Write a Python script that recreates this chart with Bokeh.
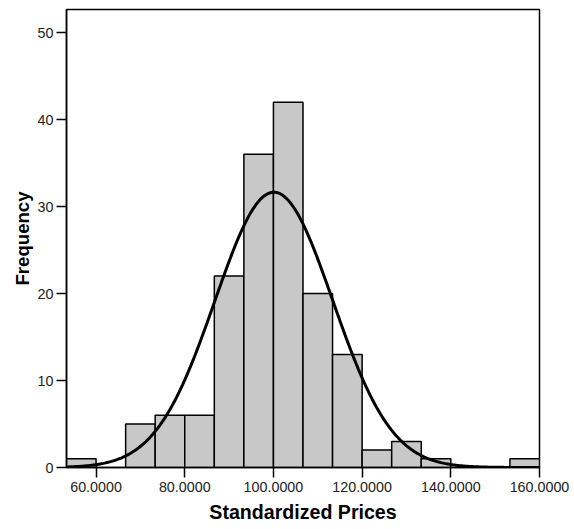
import numpy as np
from bokeh.plotting import figure
from bokeh.models import FixedTicker, PrintfTickFormatter, Range1d
from bokeh.embed import file_html
from bokeh.resources import INLINE

# Histogram data (bin width 20/3)
bin_left = [53.3333, 60.0, 66.6667, 73.3333, 80.0, 86.6667, 93.3333, 100.0,
            106.6667, 113.3333, 120.0, 126.6667, 133.3333, 140.0, 146.6667, 153.3333]
bin_right = [60.0, 66.6667, 73.3333, 80.0, 86.6667, 93.3333, 100.0, 106.6667,
             113.3333, 120.0, 126.6667, 133.3333, 140.0, 146.6667, 153.3333, 160.0]
counts = [1, 0, 5, 6, 6, 22, 36, 42, 20, 13, 2, 3, 1, 0, 0, 1]

# Fitted normal curve parameters
fit_mean = 100.1
fit_sd = 13.28
n_total = sum(counts)
bin_width = 20.0 / 3.0

x_ticks = [60, 80, 100, 120, 140, 160]
y_ticks = [0, 10, 20, 30, 40, 50]

p = figure(width=574, height=529, output_backend="svg", toolbar_location=None,
           x_range=Range1d(53.3333, 160.0), y_range=Range1d(0, 52.65),
           min_border_left=66, min_border_right=35, min_border_top=9, min_border_bottom=62)

bl, br, ct = [], [], []
for l, r, c in zip(bin_left, bin_right, counts):
    if c > 0:
        bl.append(l); br.append(r); ct.append(c)
p.quad(left=bl, right=br, bottom=0, top=ct, fill_color="#c8c8c8",
       line_color="black", line_width=1.5)

xs = np.linspace(53.3333, 160.0, 400)
ys = n_total * bin_width / (fit_sd * np.sqrt(2 * np.pi)) * np.exp(-0.5 * ((xs - fit_mean) / fit_sd) ** 2)
p.line(xs, ys, line_color="black", line_width=3)

p.grid.visible = False
p.outline_line_color = "black"
p.outline_line_width = 1.5
p.background_fill_color = "white"
p.border_fill_color = "white"

p.xaxis.ticker = FixedTicker(ticks=x_ticks)
p.yaxis.ticker = FixedTicker(ticks=y_ticks)
p.xaxis.formatter = PrintfTickFormatter(format="%.4f")
for ax in (p.xaxis[0], p.yaxis[0]):
    ax.axis_line_color = "black"
    ax.axis_line_width = 1.5
    ax.major_tick_line_color = "black"
    ax.major_tick_line_width = 1.5
    ax.major_tick_out = 10
    ax.major_tick_in = 0
    ax.minor_tick_line_color = None
    ax.major_label_text_font = "Liberation Sans"
    ax.major_label_text_font_size = "14.3px"
    ax.major_label_text_color = "#222222"
    ax.axis_label_text_font = "Liberation Sans"
    ax.axis_label_text_font_style = "bold"
    ax.axis_label_text_color = "black"
p.xaxis.axis_label_text_font_size = "19.6px"
p.yaxis.axis_label_text_font_size = "18.6px"
p.xaxis.axis_label = "Standardized Prices"
p.yaxis.axis_label = "Frequency"
p.xaxis.major_label_standoff = 4
p.yaxis.major_label_standoff = 3
p.xaxis.axis_label_standoff = 6
p.yaxis.axis_label_standoff = 2

open("out.html", "w").write(file_html(p, INLINE))
